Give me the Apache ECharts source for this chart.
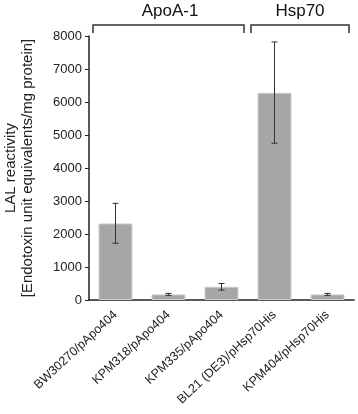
<!DOCTYPE html>
<html>
<head>
<meta charset="utf-8">
<script src="https://cdn.jsdelivr.net/npm/echarts@6/dist/echarts.min.js"></script>
<style>
html,body{margin:0;padding:0;background:#fff;}
#main{width:358px;height:414px;}
</style>
</head>
<body>
<div id="main"></div>
<script>
// 菌株/质粒
var categories = ['BW30270/pApo404', 'KPM318/pApo404', 'KPM335/pApo404', 'BL21 (DE3)/pHsp70His', 'KPM404/pHsp70His'];
var values = [2320, 170, 400, 6280, 170];
var errLow = [1720, 140, 300, 4750, 140];
var errHigh = [2930, 200, 500, 7820, 200];
var yTicks = [0, 1000, 2000, 3000, 4000, 5000, 6000, 7000, 8000];

var errData = [];
values.forEach(function(v, i){
	errData.push([i, errLow[i], errHigh[i]]);
});

var myChart = echarts.init(document.getElementById('main'));
var option = {
	backgroundColor: '#fff',
	animation: false,
	grid: {
		left: 89,
		right: 4,
		top: 36,
		bottom: 114,
		outerBoundsMode: 'none',
		containLabel: false
	},
	xAxis: {
		type: 'category',
		data: categories,
		axisLine: {lineStyle: {color: '#222', width: 1.5}},
		axisTick: {show: false},
		axisLabel: {
			rotate: 43,
			interval: 0,
			fontSize: 12.5,
			fontFamily: 'Liberation Sans',
			color: '#222',
			margin: 13
		}
	},
	yAxis: {
		type: 'value',
		min: yTicks[0],
		max: yTicks[yTicks.length - 1],
		interval: 1000,
		name: 'LAL reactivity\n[Endotoxin unit equivalents/mg protein]',
		nameLocation: 'middle',
		nameGap: 53,
		nameTextStyle: {
			fontSize: 15,
			fontFamily: 'Liberation Sans',
			color: '#222',
			lineHeight: 17
		},
		axisLine: {show: true, lineStyle: {color: '#222', width: 1.5}},
		axisTick: {show: true, length: 4, lineStyle: {color: '#222'}},
		splitLine: {show: false},
		axisLabel: {
			fontSize: 13,
			fontFamily: 'Liberation Sans',
			color: '#222',
			margin: 7,
			formatter: function(v){ return String(v); }
		}
	},
	series: [
		{
			name: 'LAL',
			type: 'bar',
			data: values,
			barCategoryGap: '36%',
			itemStyle: {
				color: '#a6a6a6',
				borderColor: '#cbcbcb',
				borderWidth: 1
			}
		},
		{
			name: 'err',
			type: 'custom',
			data: errData,
			z: 10,
			renderItem: function(params, api){
				var x = api.value(0);
				var lo = api.coord([x, api.value(1)]);
				var hi = api.coord([x, api.value(2)]);
				var cap = 3;
				var st = {stroke: '#333', lineWidth: 1};
				return {
					type: 'group',
					children: [
						{type: 'line', shape: {x1: lo[0], y1: lo[1], x2: hi[0], y2: hi[1]}, style: st},
						{type: 'line', shape: {x1: lo[0] - cap, y1: lo[1], x2: lo[0] + cap, y2: lo[1]}, style: st},
						{type: 'line', shape: {x1: hi[0] - cap, y1: hi[1], x2: hi[0] + cap, y2: hi[1]}, style: st}
					]
				};
			}
		}
	],
	graphic: [
		{
			type: 'polyline',
			shape: {points: [[93, 33], [93, 25], [244, 25], [244, 33]]},
			style: {stroke: '#333', lineWidth: 1.5, fill: null}
		},
		{
			type: 'polyline',
			shape: {points: [[251, 33], [251, 25], [349, 25], [349, 33]]},
			style: {stroke: '#333', lineWidth: 1.5, fill: null}
		},
		{
			type: 'text',
			x: 170, y: 11,
			style: {text: 'ApoA-1', fontSize: 17, fontFamily: 'Liberation Sans', fill: '#111', align: 'center', verticalAlign: 'middle'}
		},
		{
			type: 'text',
			x: 300, y: 11,
			style: {text: 'Hsp70', fontSize: 17, fontFamily: 'Liberation Sans', fill: '#111', align: 'center', verticalAlign: 'middle'}
		}
	]
};
myChart.setOption(option);
</script>
</body>
</html>
